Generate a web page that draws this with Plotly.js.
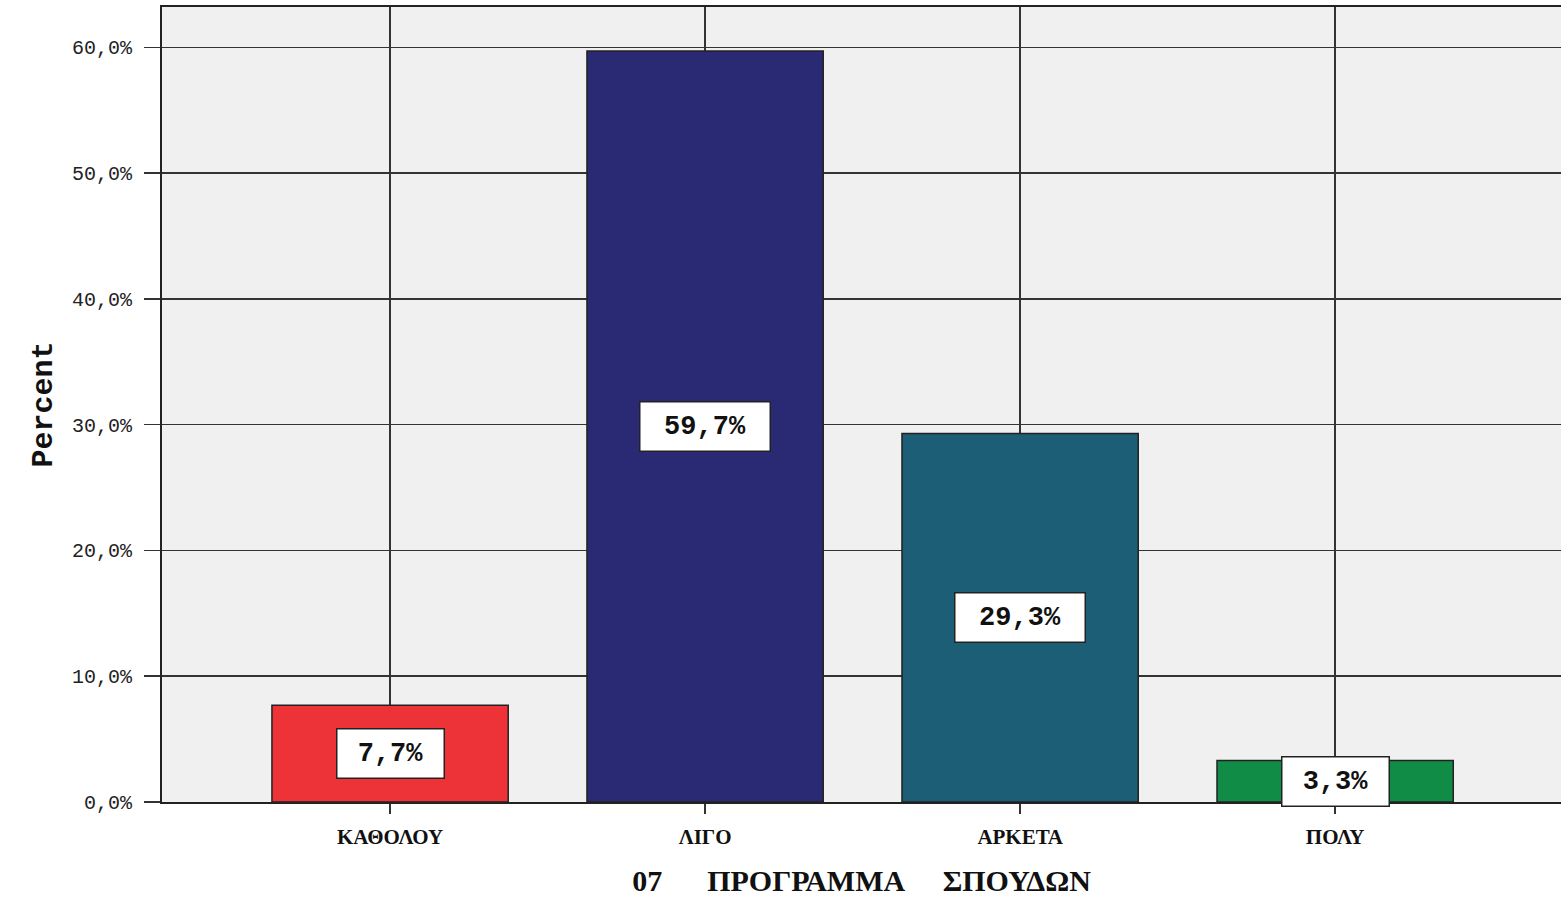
<!DOCTYPE html>
<html>
<head>
<meta charset="utf-8">
<script src="https://cdn.plot.ly/plotly-3.0.1.min.js"></script>
<style>
html,body{margin:0;padding:0;background:#fff;}
#chart{width:1561px;height:897px;}
</style>
</head>
<body>
<div id="chart"></div>
<script>
const categories = ["ΚΑΘΟΛΟΥ", "ΛΙΓΟ", "ΑΡΚΕΤΑ", "ΠΟΛΥ"];
const percentValues = [7.7, 59.7, 29.3, 3.3];
const valueLabels = ["7,7%", "59,7%", "29,3%", "3,3%"];
const barColors = ["#ee3338", "#292a73", "#1c5e75", "#118c47"];
const yTickValues = [0, 10, 20, 30, 40, 50, 60];
const yTickLabels = ["0,0%", "10,0%", "20,0%", "30,0%", "40,0%", "50,0%", "60,0%"];
const xTitle = "07\u00a0\u00a0\u00a0\u00a0\u00a0\u00a0ΠΡΟΓΡΑΜΜΑ\u00a0\u00a0\u00a0\u00a0\u00a0ΣΠΟΥΔΩΝ";
const yTitle = "Percent";

const trace = {
  type: "bar",
  x: categories,
  y: percentValues,
  width: 0.75,
  marker: {color: barColors, line: {color: "#222", width: 1.5}},
  hoverinfo: "skip"
};

const annotations = categories.map((c, i) => ({
  x: c,
  y: percentValues[i] / 2,
  xref: "x",
  yref: "y",
  text: valueLabels[i],
  showarrow: false,
  bgcolor: "#ffffff",
  bordercolor: "#222",
  borderwidth: 1.5,
  width: 23 * valueLabels[i].length + 12,
  height: 46,
  font: {family: "Liberation Mono, DejaVu Sans Mono, monospace", size: 27, color: "#111", weight: "bold"}
}));

const layout = {
  width: 1561,
  height: 897,
  margin: {l: 162, r: 0, t: 7, b: 95},
  paper_bgcolor: "#ffffff",
  plot_bgcolor: "#f0f0f0",
  showlegend: false,
  separators: ",.",
  bargap: 0.25,
  xaxis: {
    type: "category",
    range: [-0.724, 3.717],
    showgrid: true,
    gridcolor: "#333",
    gridwidth: 1.5,
    showline: true,
    linecolor: "#222",
    linewidth: 2,
    mirror: true,
    ticks: "outside",
    ticklen: 10,
    tickwidth: 1.5,
    tickcolor: "#333",
    ticklabelstandoff: 5,
    tickfont: {family: "Liberation Serif, DejaVu Serif, serif", size: 21, color: "#111", weight: "bold"},
    title: {text: xTitle, font: {family: "Liberation Serif, DejaVu Serif, serif", size: 30, color: "#111", weight: "bold"}, standoff: 26}
  },
  yaxis: {
    range: [0, 63.2],
    tickvals: yTickValues,
    ticktext: yTickLabels,
    showgrid: true,
    gridcolor: "#333",
    gridwidth: 1.5,
    zeroline: false,
    showline: true,
    linecolor: "#222",
    linewidth: 2,
    ticks: "outside",
    ticklen: 16,
    tickwidth: 1.5,
    tickcolor: "#333",
    ticklabelstandoff: 8,
    tickfont: {family: "Liberation Mono, DejaVu Sans Mono, monospace", size: 20, color: "#222"},
    title: {text: yTitle, font: {family: "Liberation Mono, DejaVu Sans Mono, monospace", size: 30, color: "#111", weight: "bold"}, standoff: 10}
  },
  annotations: annotations
};

Plotly.newPlot("chart", [trace], layout, {displayModeBar: false, staticPlot: true});
</script>
</body>
</html>
